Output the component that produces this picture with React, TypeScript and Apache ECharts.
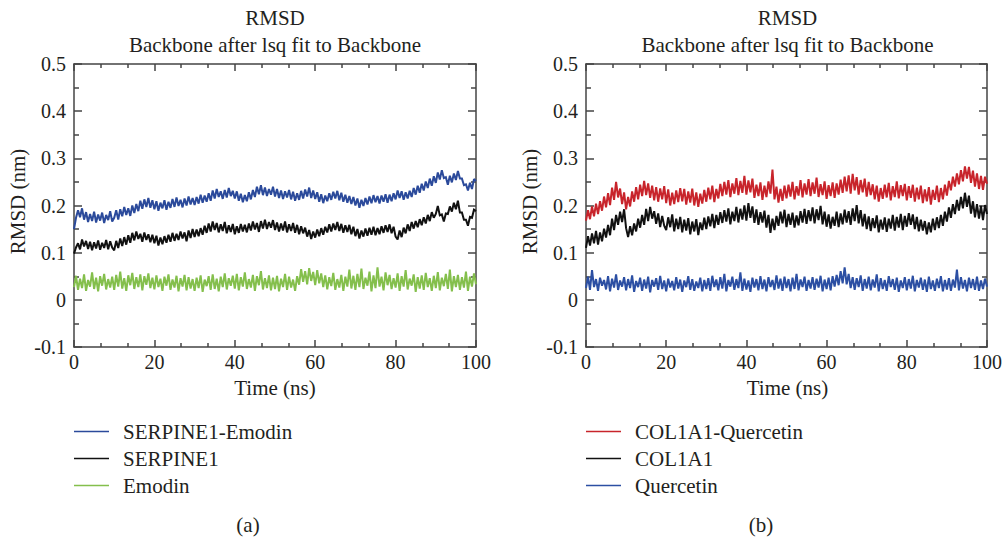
import React, { useEffect, useRef } from "react";
import * as echarts from "echarts";

// Sampling step of the trajectories (ns)
const STEP = 0.5;

// Panel (a) RMSD values, nm, one value every 0.5 ns from 0 to 100 ns
const serpineEmodin = [
  0.150,0.174,0.190,0.175,0.194,0.170,0.186,0.165,0.182,0.167,0.187,0.164,0.181,0.168,0.185,0.163,0.180,0.169,0.188,0.166,
  0.174,0.190,0.170,0.192,0.177,0.197,0.180,0.194,0.178,0.200,0.184,0.203,0.188,0.210,0.193,0.213,0.197,0.216,0.195,0.211,
  0.192,0.209,0.189,0.206,0.194,0.211,0.191,0.208,0.195,0.214,0.197,0.217,0.199,0.212,0.196,0.215,0.200,0.219,0.202,0.216,
  0.201,0.218,0.204,0.223,0.206,0.221,0.208,0.226,0.210,0.232,0.215,0.235,0.218,0.230,0.214,0.233,0.217,0.237,0.220,0.231,
  0.215,0.230,0.210,0.225,0.207,0.222,0.209,0.228,0.213,0.233,0.218,0.240,0.224,0.243,0.222,0.238,0.220,0.235,0.223,0.240,
  0.219,0.235,0.216,0.232,0.214,0.230,0.217,0.233,0.213,0.229,0.210,0.226,0.212,0.231,0.215,0.234,0.219,0.238,0.216,0.232,
  0.214,0.228,0.208,0.224,0.205,0.221,0.209,0.226,0.212,0.229,0.215,0.231,0.211,0.227,0.208,0.223,0.206,0.220,0.203,0.218,
  0.200,0.215,0.195,0.212,0.199,0.216,0.202,0.219,0.205,0.222,0.207,0.220,0.204,0.221,0.208,0.224,0.206,0.223,0.209,0.226,
  0.213,0.232,0.216,0.230,0.212,0.228,0.215,0.231,0.218,0.237,0.223,0.242,0.227,0.246,0.232,0.251,0.237,0.257,0.242,0.262,
  0.248,0.270,0.255,0.275,0.258,0.260,0.244,0.263,0.249,0.268,0.254,0.273,0.257,0.257,0.243,0.245,0.232,0.248,0.235,0.256,
  0.252,
];

const serpine = [
  0.098,0.111,0.120,0.107,0.128,0.113,0.125,0.108,0.123,0.105,0.122,0.109,0.126,0.106,0.121,0.110,0.127,0.107,0.124,0.111,
  0.105,0.125,0.110,0.130,0.114,0.133,0.117,0.137,0.121,0.142,0.126,0.145,0.129,0.140,0.123,0.143,0.127,0.139,0.122,0.138,
  0.120,0.136,0.115,0.132,0.118,0.135,0.121,0.138,0.123,0.142,0.125,0.140,0.127,0.145,0.130,0.143,0.124,0.147,0.131,0.150,
  0.133,0.149,0.135,0.152,0.138,0.157,0.142,0.162,0.145,0.166,0.148,0.163,0.143,0.160,0.146,0.165,0.141,0.158,0.144,0.161,
  0.139,0.156,0.142,0.161,0.145,0.159,0.143,0.162,0.147,0.166,0.149,0.163,0.144,0.167,0.151,0.170,0.150,0.165,0.153,0.169,
  0.148,0.164,0.145,0.162,0.147,0.166,0.143,0.160,0.146,0.163,0.142,0.159,0.139,0.156,0.141,0.153,0.134,0.148,0.129,0.145,
  0.132,0.149,0.135,0.152,0.138,0.155,0.143,0.160,0.145,0.162,0.148,0.165,0.146,0.161,0.142,0.158,0.144,0.159,0.139,0.155,
  0.135,0.150,0.130,0.147,0.134,0.151,0.136,0.153,0.138,0.155,0.137,0.152,0.139,0.156,0.142,0.158,0.144,0.160,0.141,0.155,
  0.134,0.128,0.147,0.133,0.153,0.141,0.160,0.146,0.165,0.151,0.167,0.154,0.171,0.158,0.175,0.162,0.180,0.167,0.186,0.174,
  0.182,0.199,0.179,0.181,0.166,0.183,0.182,0.198,0.187,0.206,0.192,0.210,0.185,0.185,0.170,0.170,0.157,0.176,0.174,0.191,
  0.188,
];

const emodin = [
  0.027,0.051,0.021,0.045,0.025,0.054,0.019,0.042,0.028,0.058,0.023,0.047,0.018,0.050,0.030,0.055,0.022,0.044,0.026,0.049,
  0.021,0.053,0.028,0.060,0.024,0.046,0.019,0.052,0.031,0.057,0.023,0.048,0.027,0.054,0.020,0.050,0.032,0.056,0.025,0.047,
  0.022,0.052,0.027,0.045,0.019,0.049,0.030,0.054,0.021,0.043,0.026,0.051,0.018,0.046,0.028,0.053,0.020,0.048,0.024,0.044,
  0.019,0.047,0.025,0.052,0.017,0.043,0.029,0.050,0.021,0.054,0.023,0.045,0.018,0.049,0.027,0.056,0.022,0.046,0.030,0.051,
  0.024,0.055,0.020,0.048,0.028,0.058,0.023,0.044,0.026,0.053,0.019,0.050,0.031,0.061,0.022,0.046,0.025,0.052,0.020,0.047,
  0.023,0.051,0.018,0.045,0.027,0.055,0.021,0.049,0.026,0.043,0.019,0.050,0.032,0.065,0.038,0.061,0.033,0.067,0.040,0.059,
  0.031,0.063,0.035,0.056,0.027,0.052,0.022,0.048,0.029,0.057,0.021,0.044,0.026,0.053,0.019,0.049,0.028,0.064,0.024,0.051,
  0.021,0.055,0.027,0.066,0.023,0.047,0.030,0.060,0.018,0.052,0.025,0.069,0.028,0.049,0.020,0.058,0.031,0.053,0.023,0.046,
  0.026,0.056,0.019,0.050,0.028,0.063,0.022,0.045,0.030,0.054,0.017,0.048,0.024,0.052,0.021,0.057,0.027,0.046,0.019,0.051,
  0.025,0.059,0.020,0.047,0.029,0.055,0.023,0.064,0.018,0.050,0.027,0.053,0.021,0.048,0.026,0.060,0.019,0.049,0.028,0.056,
  0.033,
];

// Panel (b) RMSD values, nm
const col1a1Quercetin = [
  0.168,0.190,0.171,0.198,0.177,0.204,0.182,0.209,0.189,0.219,0.196,0.226,0.201,0.238,0.212,0.250,0.217,0.236,0.203,0.228,
  0.192,0.218,0.198,0.230,0.208,0.239,0.213,0.244,0.220,0.252,0.222,0.247,0.216,0.242,0.211,0.239,0.208,0.236,0.213,0.241,
  0.205,0.234,0.200,0.227,0.203,0.232,0.207,0.237,0.209,0.235,0.202,0.230,0.206,0.236,0.200,0.228,0.197,0.225,0.204,0.233,
  0.208,0.238,0.213,0.242,0.207,0.235,0.215,0.246,0.220,0.250,0.223,0.254,0.218,0.247,0.225,0.258,0.222,0.252,0.227,0.263,
  0.223,0.253,0.228,0.257,0.216,0.244,0.220,0.249,0.212,0.242,0.218,0.251,0.225,0.276,0.213,0.240,0.206,0.235,0.210,0.242,
  0.215,0.244,0.219,0.250,0.213,0.241,0.221,0.254,0.217,0.247,0.223,0.256,0.220,0.249,0.225,0.259,0.218,0.245,0.222,0.251,
  0.214,0.243,0.220,0.249,0.216,0.247,0.223,0.255,0.227,0.261,0.230,0.264,0.225,0.267,0.232,0.260,0.223,0.254,0.228,0.257,
  0.219,0.250,0.222,0.245,0.213,0.242,0.208,0.237,0.214,0.244,0.217,0.248,0.211,0.241,0.218,0.251,0.215,0.243,0.220,0.246,
  0.211,0.241,0.216,0.244,0.208,0.238,0.213,0.242,0.205,0.234,0.209,0.239,0.202,0.233,0.212,0.242,0.207,0.237,0.213,0.244,
  0.221,0.252,0.232,0.261,0.240,0.268,0.245,0.275,0.251,0.283,0.257,0.282,0.248,0.274,0.240,0.268,0.235,0.263,0.233,0.261,
  0.246,
];

const col1a1 = [
  0.110,0.135,0.115,0.141,0.120,0.146,0.117,0.143,0.124,0.151,0.132,0.159,0.137,0.172,0.148,0.180,0.159,0.187,0.165,0.192,
  0.152,0.133,0.156,0.137,0.162,0.145,0.172,0.153,0.180,0.159,0.193,0.167,0.197,0.172,0.188,0.161,0.183,0.154,0.178,0.157,
  0.148,0.175,0.154,0.181,0.145,0.172,0.150,0.176,0.143,0.170,0.147,0.173,0.139,0.166,0.145,0.171,0.137,0.164,0.148,0.174,
  0.150,0.177,0.156,0.182,0.152,0.180,0.159,0.186,0.163,0.190,0.166,0.194,0.160,0.187,0.167,0.197,0.164,0.193,0.170,0.200,
  0.168,0.205,0.174,0.198,0.163,0.192,0.159,0.186,0.164,0.189,0.153,0.180,0.142,0.172,0.148,0.178,0.157,0.187,0.162,0.191,
  0.154,0.182,0.159,0.185,0.153,0.179,0.158,0.188,0.164,0.193,0.161,0.190,0.167,0.196,0.162,0.192,0.169,0.199,0.160,0.187,
  0.155,0.181,0.151,0.176,0.157,0.187,0.154,0.183,0.160,0.191,0.164,0.188,0.159,0.194,0.167,0.201,0.162,0.190,0.156,0.182,
  0.150,0.177,0.146,0.173,0.152,0.179,0.143,0.170,0.149,0.175,0.144,0.172,0.151,0.180,0.147,0.176,0.153,0.182,0.148,0.178,
  0.155,0.184,0.159,0.181,0.150,0.176,0.145,0.170,0.147,0.167,0.139,0.164,0.143,0.172,0.148,0.175,0.152,0.180,0.157,0.187,
  0.166,0.196,0.174,0.203,0.182,0.212,0.189,0.218,0.194,0.227,0.197,0.221,0.183,0.209,0.175,0.203,0.172,0.199,0.169,0.201,
  0.182,
];

const quercetin = [
  0.025,0.049,0.021,0.063,0.027,0.044,0.019,0.047,0.030,0.042,0.022,0.050,0.018,0.045,0.026,0.054,0.021,0.041,0.028,0.048,
  0.020,0.044,0.025,0.052,0.017,0.040,0.027,0.047,0.019,0.043,0.024,0.049,0.016,0.042,0.028,0.046,0.021,0.051,0.023,0.041,
  0.018,0.045,0.026,0.040,0.020,0.048,0.024,0.043,0.017,0.041,0.027,0.050,0.021,0.044,0.019,0.039,0.025,0.047,0.018,0.042,
  0.023,0.046,0.019,0.051,0.027,0.043,0.020,0.048,0.024,0.055,0.018,0.042,0.028,0.049,0.021,0.044,0.025,0.058,0.019,0.045,
  0.022,0.041,0.017,0.047,0.026,0.044,0.020,0.050,0.023,0.043,0.018,0.048,0.027,0.042,0.021,0.052,0.024,0.045,0.019,0.049,
  0.025,0.044,0.018,0.047,0.023,0.055,0.020,0.043,0.027,0.049,0.019,0.042,0.024,0.048,0.021,0.045,0.026,0.051,0.018,0.043,
  0.023,0.047,0.020,0.050,0.028,0.053,0.031,0.061,0.035,0.069,0.033,0.055,0.025,0.048,0.021,0.046,0.027,0.052,0.019,0.044,
  0.024,0.049,0.020,0.043,0.026,0.054,0.018,0.046,0.023,0.042,0.019,0.050,0.027,0.044,0.021,0.047,0.017,0.041,0.025,0.048,
  0.020,0.044,0.024,0.051,0.018,0.042,0.026,0.047,0.021,0.043,0.017,0.049,0.023,0.041,0.019,0.045,0.025,0.050,0.018,0.042,
  0.022,0.046,0.019,0.043,0.026,0.064,0.020,0.048,0.024,0.042,0.018,0.047,0.025,0.044,0.021,0.049,0.019,0.041,0.023,0.045,
  0.028,
];

const titleLine1 = "RMSD";
const titleLine2 = "Backbone after lsq fit to Backbone";
const xName = "Time (ns)";
const yName = "RMSD (nm)";
const panelTags = ["(a)", "(b)"];

const panelA = [
  { name: "SERPINE1-Emodin", values: serpineEmodin, color: "#2b4a9b" },
  { name: "SERPINE1", values: serpine, color: "#111111" },
  { name: "Emodin", values: emodin, color: "#84bf4c" },
];
const panelB = [
  { name: "COL1A1-Quercetin", values: col1a1Quercetin, color: "#c8242b" },
  { name: "COL1A1", values: col1a1, color: "#111111" },
  { name: "Quercetin", values: quercetin, color: "#2c4fa3" },
];

const FONT = "'Liberation Serif', 'Times New Roman', serif";
const AXIS_COLOR = "#444";
const TEXT_COLOR = "#231f20";

const toPairs = (values: number[]) => values.map((v, i) => [i * STEP, v]);

export default function App() {
  const ref = useRef<HTMLDivElement>(null);

  useEffect(() => {
    if (!ref.current) return;
    const chart = echarts.init(ref.current, undefined, { renderer: "svg" });

    const grids = [
      { left: 74, top: 64, width: 402, height: 283 },
      { left: 586, top: 64, width: 403, height: 283 },
    ];

    const tickLabel = { fontFamily: FONT, fontSize: 20, color: TEXT_COLOR };
    const line = { lineStyle: { color: AXIS_COLOR, width: 1.5 } };

    const xAxes: any[] = [];
    const yAxes: any[] = [];
    grids.forEach((_, gi) => {
      ["bottom", "top"].forEach((pos) => {
        xAxes.push({
          type: "value",
          gridIndex: gi,
          position: pos,
          min: 0,
          max: 100,
          interval: 20,
          axisLine: { show: true, onZero: false, ...line },
          axisTick: { show: true, inside: true, length: 7, ...line },
          minorTick: { show: true, splitNumber: 3, length: 4, ...line },
          splitLine: { show: false },
          axisLabel: { show: pos === "bottom", margin: 5, ...tickLabel },
        });
      });
      ["left", "right"].forEach((pos) => {
        yAxes.push({
          type: "value",
          gridIndex: gi,
          position: pos,
          min: -0.1,
          max: 0.5,
          interval: 0.1,
          axisLine: { show: true, onZero: false, ...line },
          axisTick: { show: true, inside: true, length: 8, ...line },
          minorTick: { show: true, splitNumber: 2, length: 5, ...line },
          splitLine: { show: false },
          axisLabel: {
            show: pos === "left",
            margin: 8,
            formatter: (v: number) => String(Math.round(v * 10) / 10),
            ...tickLabel,
          },
        });
      });
    });

    const series: any[] = [];
    [panelA, panelB].forEach((panel, gi) => {
      panel.forEach((s) => {
        series.push({
          type: "line",
          name: s.name,
          xAxisIndex: gi * 2,
          yAxisIndex: gi * 2,
          data: toPairs(s.values),
          showSymbol: false,
          symbol: "none",
          lineStyle: { color: s.color, width: 2, join: "miter", miterLimit: 2 },
          itemStyle: { color: s.color },
        });
      });
    });

    // Legend keys are thin horizontal bars
    const legendBase = {
      orient: "vertical",
      top: 421,
      padding: 0,
      itemWidth: 35,
      itemHeight: 1.5,
      itemGap: 6,
      icon: "rect",
      selectedMode: false,
      itemStyle: { borderWidth: 0 },
      textStyle: {
        fontFamily: FONT,
        fontSize: 21,
        color: TEXT_COLOR,
        lineHeight: 20,
        padding: [0, 0, 0, 9],
      },
    };

    const textStyle = (text: string, x: number, y: number) => ({
      text,
      x,
      y,
      align: "center",
      verticalAlign: "middle",
      fontFamily: FONT,
      fontSize: 21,
      fill: TEXT_COLOR,
    });

    const graphic: any[] = [];
    grids.forEach((g, gi) => {
      const cx = g.left + g.width / 2;
      graphic.push(
        { type: "text", style: textStyle(titleLine1, cx, 18) },
        { type: "text", style: textStyle(titleLine2, cx, 45) },
        { type: "text", style: textStyle(xName, cx, 388) },
        {
          type: "text",
          x: g.left - 56,
          y: g.top + g.height / 2 - 4,
          rotation: Math.PI / 2,
          style: textStyle(yName, 0, 0),
        },
        { type: "text", style: textStyle(panelTags[gi], gi === 0 ? 248 : 761, 525) }
      );
    });

    chart.setOption({
      animation: false,
      backgroundColor: "#ffffff",
      grid: grids,
      xAxis: xAxes,
      yAxis: yAxes,
      series,
      legend: [
        { ...legendBase, left: 74, data: panelA.map((s) => s.name) },
        { ...legendBase, left: 586, data: panelB.map((s) => s.name) },
      ],
      graphic,
    });

    return () => chart.dispose();
  }, []);

  return (
    <div
      ref={ref}
      style={{ position: "fixed", left: 0, top: 0, width: 1005, height: 539, background: "#fff" }}
    />
  );
}
